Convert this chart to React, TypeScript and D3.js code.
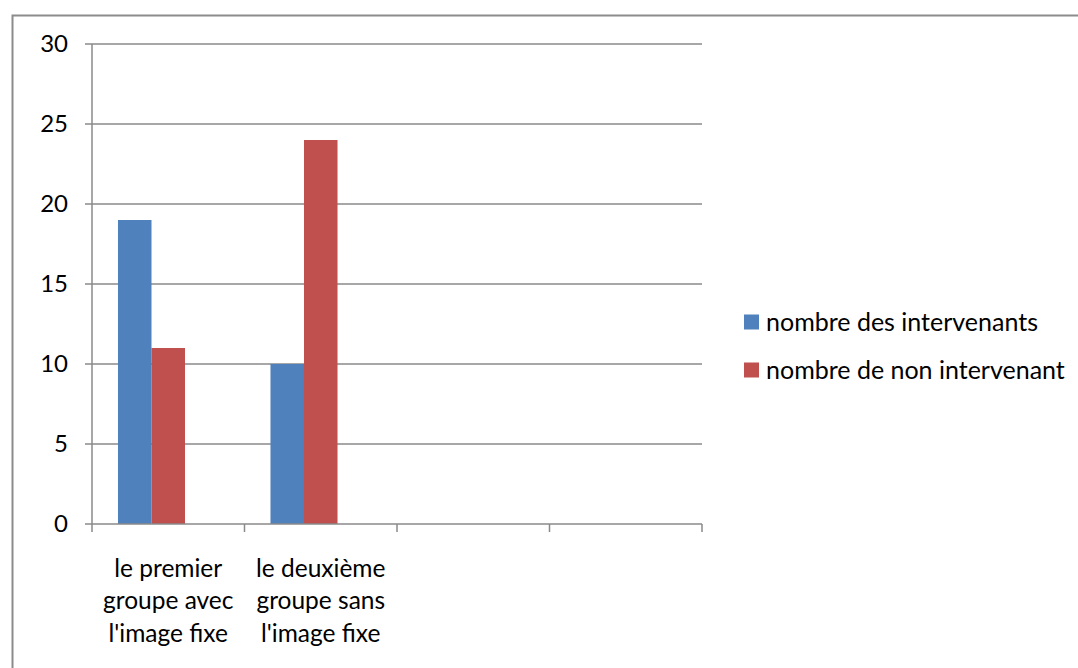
import React, { useEffect, useRef } from 'react';
import * as d3 from 'd3';

const categories = [
  ["le premier", "groupe avec", "l'image fixe"],
  ["le deuxième", "groupe sans", "l'image fixe"],
  [],
  [],
];
const seriesNames = ["nombre des intervenants", "nombre de non intervenant"];
const intervenants = [19, 10, null, null];
const nonIntervenants = [11, 24, null, null];
const yTicks = [0, 5, 10, 15, 20, 25, 30];

const colors = ["#4F81BD", "#C0504D"];
const W = 1078;
const H = 668;
const FONT = "Lato, 'Open Sans', sans-serif";

const App: React.FC = () => {
  const svgRef = useRef<SVGSVGElement>(null);

  useEffect(() => {
    if (!svgRef.current) return;
    const svg = d3.select(svgRef.current);
    svg.selectAll("*").remove();

    // outer chart frame (runs off the right and bottom edge)
    svg.append("rect")
      .attr("x", 12.5).attr("y", 15.5)
      .attr("width", W).attr("height", H)
      .attr("fill", "white")
      .attr("stroke", "#8c8c8c")
      .attr("stroke-width", 2);

    const plot = { left: 92, right: 702, top: 44, bottom: 524 };

    const x = d3.scaleBand<number>()
      .domain(d3.range(categories.length))
      .range([plot.left, plot.right]);

    // three slots per category, Excel style gap 150%
    const slot = d3.scaleBand<number>()
      .domain([0, 1, 2])
      .range([0, x.bandwidth()])
      .paddingOuter(0.775)
      .paddingInner(0);

    const y = d3.scaleLinear().domain([0, 30]).range([plot.bottom, plot.top]);

    const g = svg.append("g");

    // gridlines
    g.selectAll("line.grid")
      .data(yTicks.filter(t => t > 0))
      .join("line")
      .attr("class", "grid")
      .attr("x1", plot.left - 7).attr("x2", plot.right)
      .attr("y1", d => y(d)).attr("y2", d => y(d))
      .attr("stroke", "#8a8a8a").attr("stroke-width", 1.5);

    // bars
    const series = [intervenants, nonIntervenants];
    series.forEach((vals, si) => {
      g.selectAll(`rect.s${si}`)
        .data(vals.map((v, i) => ({ v, i })).filter(d => d.v !== null))
        .join("rect")
        .attr("class", `s${si}`)
        .attr("x", d => (x(d.i) as number) + (slot(si) as number))
        .attr("width", slot.bandwidth())
        .attr("y", d => y(d.v as number))
        .attr("height", d => y(0) - y(d.v as number))
        .attr("fill", colors[si]);
    });

    // y axis
    g.append("line")
      .attr("x1", plot.left).attr("x2", plot.left)
      .attr("y1", plot.top).attr("y2", plot.bottom)
      .attr("stroke", "#8a8a8a").attr("stroke-width", 1.5);

    g.append("line")
      .attr("x1", plot.left - 7).attr("x2", plot.right)
      .attr("y1", plot.bottom).attr("y2", plot.bottom)
      .attr("stroke", "#8a8a8a").attr("stroke-width", 1.5);

    // x ticks at category boundaries
    const bounds = d3.range(categories.length + 1).map(i =>
      i < categories.length ? (x(i) as number) : plot.right);
    g.selectAll("line.xt")
      .data(bounds)
      .join("line")
      .attr("class", "xt")
      .attr("x1", d => d).attr("x2", d => d)
      .attr("y1", plot.bottom).attr("y2", plot.bottom + 8)
      .attr("stroke", "#8a8a8a").attr("stroke-width", 1.5);

    // y labels
    g.selectAll("text.yl")
      .data(yTicks)
      .join("text")
      .attr("class", "yl")
      .attr("x", 68)
      .attr("y", d => y(d))
      .attr("dy", "0.35em")
      .attr("text-anchor", "end")
      .style("font-family", FONT)
      .style("font-size", "24px")
      .text(d => d);

    // category labels
    categories.forEach((lines, i) => {
      const cx = (x(i) as number) + x.bandwidth() / 2;
      lines.forEach((ln, li) => {
        g.append("text")
          .attr("x", cx)
          .attr("y", 568 + li * 32.5)
          .attr("dy", "0.35em")
          .attr("text-anchor", "middle")
          .style("font-family", FONT)
          .style("font-size", "24.5px")
          .text(ln);
      });
    });

    // legend
    const legend = g.append("g");
    seriesNames.forEach((name, i) => {
      const ly = 322 + i * 48;
      legend.append("rect")
        .attr("x", 744).attr("y", ly - 7.5)
        .attr("width", 15).attr("height", 15)
        .attr("fill", colors[i]);
      legend.append("text")
        .attr("x", 766).attr("y", ly)
        .attr("dy", "0.35em")
        .style("font-family", FONT)
        .style("font-size", "25px")
        .text(name);
    });
  }, []);

  return (
    <svg
      ref={svgRef}
      width={W}
      height={H}
      style={{ position: 'absolute', left: 0, top: 0, background: 'white' }}
    />
  );
};

export default App;
